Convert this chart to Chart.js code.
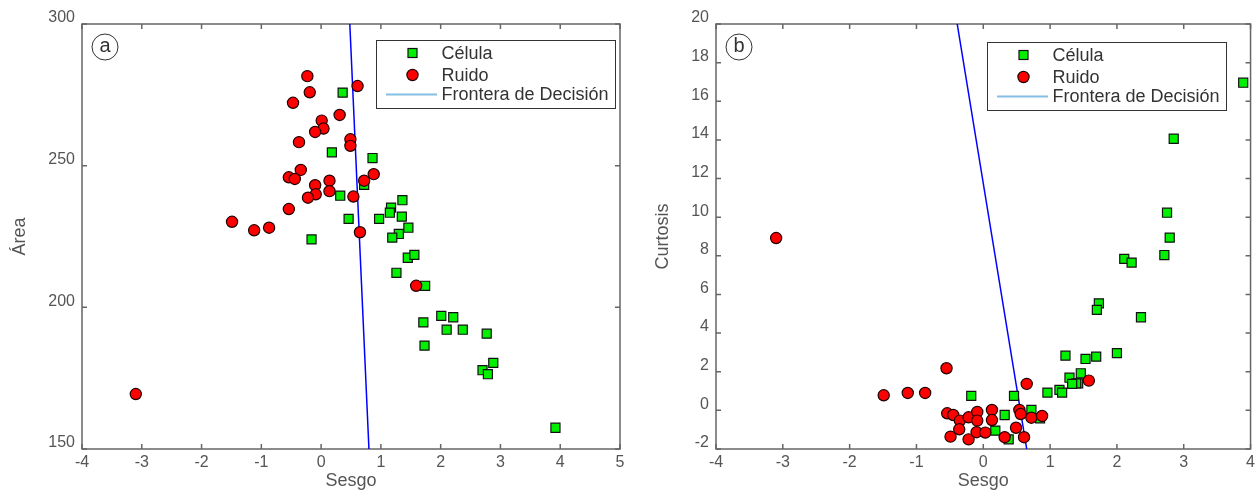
<!DOCTYPE html>
<html>
<head>
<meta charset="utf-8">
<script src="https://cdn.jsdelivr.net/npm/chart.js"></script>
<style>
  body { margin: 0; background: #fff; }
  .panel { position: absolute; top: 0; }
</style>
</head>
<body>
<div class="panel" style="left:0"><canvas id="chartA" width="630" height="493"></canvas></div>
<div class="panel" style="left:634px"><canvas id="chartB" width="625" height="493"></canvas></div>
<script>
// panel (a): Sesgo vs Área
const celulaSesgoA = [0.36, 0.18, 0.86, 0.72, 0.32, 0.46, -0.16, 1.36, 1.17, 1.15, 0.97, 1.35, 1.46, 1.30, 1.19, 1.45, 1.56, 1.26, 1.74, 1.71, 2.01, 2.21, 2.10, 2.37, 2.77, 1.73, 2.88, 2.70, 2.79, 3.92]
const celulaAreaA = [275.8, 254.7, 252.7, 243.2, 239.4, 231.2, 224.0, 237.8, 235.2, 233.4, 231.2, 232.0, 228.1, 225.9, 224.6, 217.5, 218.5, 212.2, 207.6, 194.7, 197.0, 196.5, 192.1, 192.1, 190.7, 186.5, 180.4, 177.8, 176.4, 157.5]
const ruidoSesgoA = [-0.23, 0.61, -0.19, -0.47, 0.31, 0.01, 0.04, -0.10, -0.37, 0.49, 0.49, -0.34, -0.54, -0.44, -0.10, 0.14, 0.72, 0.88, -0.09, -0.22, 0.14, 0.54, -0.54, -1.49, -1.12, -0.87, 0.65, 1.59, -3.10]
const ruidoAreaA = [281.6, 278.1, 275.9, 272.2, 267.9, 265.9, 263.1, 261.9, 258.3, 259.3, 257.0, 248.5, 245.9, 245.3, 243.1, 244.7, 244.7, 247.0, 239.9, 238.7, 241.0, 239.1, 234.7, 230.2, 227.2, 228.1, 226.5, 207.6, 169.4]
const fronteraSesgoA = [0.48, 0.80]
const fronteraAreaA = [300, 150]

// panel (b): Sesgo vs Curtosis
const celulaSesgoB = [3.89, 2.85, 2.75, 2.79, 2.71, 2.11, 2.22, 1.73, 1.70, 2.36, 2.00, 1.69, 1.53, 1.46, 1.42, 1.23, 1.29, 1.39, 1.33, 1.14, 1.18, 0.96, -0.18, 0.46, 0.72, 0.85, 0.32, 0.18, 0.38]
const celulaCurtB = [16.96, 14.06, 10.23, 8.94, 8.04, 7.84, 7.65, 5.54, 5.20, 4.82, 2.96, 2.78, 2.66, 1.92, 1.40, 2.83, 1.69, 1.40, 1.37, 1.06, 0.92, 0.92, 0.75, 0.75, 0.02, -0.41, -0.24, -1.05, -1.50]
const ruidoSesgoB = [-3.10, -1.49, -1.13, -0.87, -0.55, 0.65, -0.54, -0.45, -0.35, -0.22, -0.09, -0.09, 0.13, 0.13, 0.54, 0.56, 0.72, 0.88, -0.36, -0.49, -0.22, -0.10, 0.03, 0.32, 0.49, 0.61, 1.58]
const ruidoCurtB = [8.92, 0.78, 0.90, 0.90, 2.18, 1.37, -0.15, -0.24, -0.53, -0.36, -0.08, -0.53, 0.02, -0.50, 0.02, -0.19, -0.38, -0.29, -0.98, -1.36, -1.50, -1.13, -1.15, -1.39, -0.90, -1.39, 1.54]
const fronteraSesgoB = [-0.39, 0.65]
const fronteraCurtB = [20, -2]

const legendLabels = ["Célula", "Ruido", "Frontera de Decisión"]

const FONT = "'Liberation Sans', Arial, Helvetica, sans-serif"
const zip = (xs, ys) => xs.map((x, i) => ({ x, y: ys[i] }))

const panelDecor = {
    id: "panelDecor",
    beforeDatasetsDraw(chart) {
        const { ctx, chartArea: a, scales: { x, y } } = chart
        ctx.save()
        ctx.strokeStyle = "#666"
        ctx.lineWidth = 1.5
        ctx.strokeRect(a.left, a.top, a.right - a.left, a.bottom - a.top)
        ctx.beginPath()
        x.ticks.forEach(t => {
            const px = x.getPixelForValue(t.value)
            ctx.moveTo(px, a.bottom); ctx.lineTo(px, a.bottom - 5)
            ctx.moveTo(px, a.top); ctx.lineTo(px, a.top + 5)
        })
        y.ticks.forEach(t => {
            const py = y.getPixelForValue(t.value)
            ctx.moveTo(a.left, py); ctx.lineTo(a.left + 5, py)
            ctx.moveTo(a.right, py); ctx.lineTo(a.right - 5, py)
        })
        ctx.stroke()
        ctx.restore()
    },
    afterDraw(chart, args, opts) {
        const { ctx, chartArea: a } = chart
        ctx.save()
        // panel tag
        ctx.strokeStyle = "#333"
        ctx.lineWidth = 1
        ctx.beginPath()
        ctx.arc(a.left + 23, a.top + 23, 13, 0, Math.PI * 2)
        ctx.stroke()
        ctx.fillStyle = "#333"
        ctx.font = `20px ${FONT}`
        ctx.textAlign = "center"
        ctx.textBaseline = "middle"
        ctx.fillText(opts.tag, a.left + 23, a.top + 22)

        // legend box
        const b = opts.box
        ctx.fillStyle = "#fff"
        ctx.fillRect(b.x, b.y, b.w, b.h)
        ctx.strokeStyle = "#333"
        ctx.strokeRect(b.x + 0.5, b.y + 0.5, b.w, b.h)
        const rows = [13, 35, 54.5]
        ctx.font = `18px ${FONT}`
        ctx.textAlign = "left"
        chart.data.datasets.forEach((ds, i) => {
            const cy = b.y + rows[i]
            const cx = b.x + 36.5
            ctx.lineWidth = 1.2
            if (ds.pointStyle === "rect") {
                ctx.fillStyle = ds.backgroundColor
                ctx.fillRect(cx - 4.5, cy - 4.5, 9, 9)
                ctx.strokeStyle = ds.borderColor
                ctx.strokeRect(cx - 4.5, cy - 4.5, 9, 9)
            } else if (ds.pointStyle === "circle") {
                ctx.beginPath()
                ctx.arc(cx, cy, 5.6, 0, Math.PI * 2)
                ctx.fillStyle = ds.backgroundColor
                ctx.fill()
                ctx.strokeStyle = ds.borderColor
                ctx.stroke()
            } else {
                ctx.strokeStyle = ds.legendColor
                ctx.lineWidth = 2
                ctx.beginPath()
                ctx.moveTo(b.x + 10, cy)
                ctx.lineTo(b.x + 61, cy)
                ctx.stroke()
            }
            ctx.fillStyle = "#333"
            ctx.fillText(ds.label, b.x + 65.5, cy + 1)
        })
        ctx.restore()
    }
}

function makeChart(id, cfg) {
    const tickFont = { family: FONT, size: 16 }
    const titleFont = { family: FONT, size: 18 }
    return new Chart(document.getElementById(id), {
        type: "scatter",
        data: {
            datasets: [
                {
                    label: legendLabels[0], data: zip(cfg.celulaX, cfg.celulaY),
                    pointStyle: "rect", pointRadius: 6.4, backgroundColor: "#00f000",
                    borderColor: "#111", borderWidth: 1.2, order: 2
                },
                {
                    label: legendLabels[1], data: zip(cfg.ruidoX, cfg.ruidoY),
                    pointStyle: "circle", pointRadius: 5.6, backgroundColor: "#ff0000",
                    borderColor: "#220000", borderWidth: 1.2, order: 1
                },
                {
                    label: legendLabels[2], data: zip(cfg.lineX, cfg.lineY),
                    showLine: true, pointRadius: 0, borderColor: "#0000ff",
                    borderWidth: 1.5, legendColor: "#86bfe6", order: 3
                }
            ]
        },
        plugins: [panelDecor],
        options: {
            responsive: false,
            devicePixelRatio: 1,
            animation: false,
            events: [],
            layout: { padding: { top: 24, right: cfg.padRight, left: 0, bottom: 0 } },
            scales: {
                x: {
                    min: cfg.xMin, max: cfg.xMax,
                    grid: { display: false, drawTicks: false },
                    border: { display: false },
                    ticks: { stepSize: 1, autoSkip: false, maxRotation: 0, padding: 4, color: "#555", font: tickFont },
                    title: { display: true, text: "Sesgo", color: "#555", font: titleFont, padding: { top: 0, bottom: 1 } },
                    afterFit: s => { s.height = 44 }
                },
                y: {
                    min: cfg.yMin, max: cfg.yMax,
                    grid: { display: false, drawTicks: false },
                    border: { display: false },
                    ticks: { stepSize: cfg.yStep, autoSkip: false, padding: 7, labelOffset: -6, color: "#555", font: tickFont },
                    title: { display: true, text: cfg.yTitle, color: "#555", font: titleFont, padding: { top: cfg.yTitlePad, bottom: 0 } },
                    afterFit: s => { s.width = 82 }
                }
            },
            plugins: {
                legend: { display: false },
                tooltip: { enabled: false },
                panelDecor: { tag: cfg.tag, box: cfg.box }
            }
        }
    })
}

makeChart("chartA", {
    celulaX: celulaSesgoA, celulaY: celulaAreaA,
    ruidoX: ruidoSesgoA, ruidoY: ruidoAreaA,
    lineX: fronteraSesgoA, lineY: fronteraAreaA,
    xMin: -4, xMax: 5, yMin: 150, yMax: 300, yStep: 50,
    yTitle: "Área", yTitlePad: 9, padRight: 10, tag: "a",
    box: { x: 376, y: 40, w: 239, h: 68 }
})

makeChart("chartB", {
    celulaX: celulaSesgoB, celulaY: celulaCurtB,
    ruidoX: ruidoSesgoB, ruidoY: ruidoCurtB,
    lineX: fronteraSesgoB, lineY: fronteraCurtB,
    xMin: -4, xMax: 4, yMin: -2, yMax: 20, yStep: 2,
    yTitle: "Curtosis", yTitlePad: 18, padRight: 4, tag: "b",
    box: { x: 353, y: 42, w: 239, h: 68 }
})
</script>
</body>
</html>
